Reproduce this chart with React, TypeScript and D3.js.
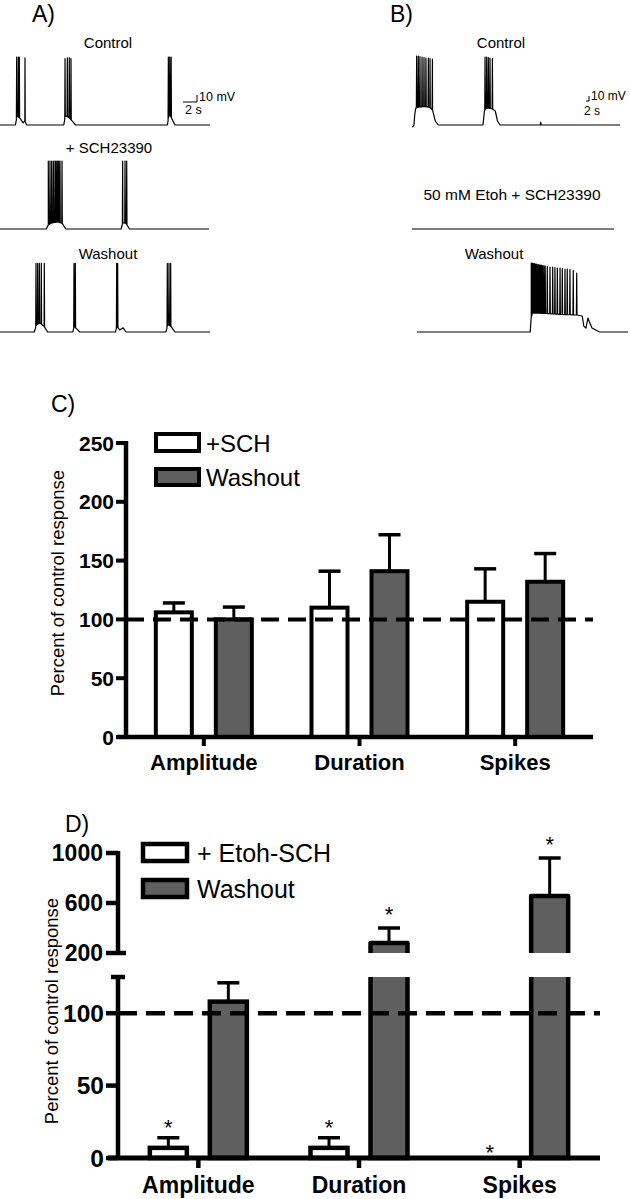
import React from "react";
import * as d3 from "d3";

// ---------------- DATA ----------------
const categories = ["Amplitude", "Duration", "Spikes"];

// Panel C
const schValues = [106, 110, 115];
const schErrors = [8, 31, 28];
const washCValues = [100, 141, 132];
const washCErrors = [10.5, 31, 24];
const ticksC = [0, 50, 100, 150, 200, 250];

// Panel D
const etohValues = [7, 7, 0];
const etohErrors = [7, 7, 0];
const washDValues = [108, 280, 656];
const washDErrors = [13, 120, 304];
const etohStars = [true, true, true];
const washDStars = [false, true, true];
const ticksDLow = [0, 50, 100];
const ticksDUp = [200, 600, 1000];

// Traces: envelope [s, mV], spikes [s, peak mV]
const aControlEnv: [number, number][] = [[0, 0], [2.2, 0], [2.45, 13], [2.9, 9], [3.3, 3], [3.55, 6], [3.8, 0], [9.1, 0], [9.35, 13], [9.8, 11], [10.3, 6], [10.8, 0], [23.9, 0], [24.2, 16], [24.6, 8], [25.0, 0], [30, 0]];
const aControlSpikes: [number, number][] = [[2.38, 97], [2.62, 97], [2.76, 97], [3.57, 96], [9.29, 95], [9.62, 96], [9.9, 96], [10.14, 95], [24.05, 97], [24.25, 97], [24.45, 97]];
const aSchEnv: [number, number][] = [[0, 0], [6.6, 0], [6.9, 6], [7.5, 9], [8.3, 10], [8.9, 8], [9.4, 0], [17.3, 0], [17.55, 9], [18.0, 8], [18.5, 0], [29.86, 0]];
const aSchSpikes: [number, number][] = [[6.9, 97], [7.14, 97], [7.38, 97], [7.62, 97], [7.86, 97], [8.0, 97], [8.19, 97], [8.38, 97], [8.57, 97], [8.86, 97], [17.52, 97], [17.86, 97], [18.1, 97]];
const aWashEnv: [number, number][] = [[0, 0], [4.9, 0], [5.2, 10], [5.7, 13], [6.3, 8], [6.8, 0], [10.4, 0], [10.6, 8], [11.0, 4], [11.4, 0], [16.5, 0], [16.7, 8], [17.1, 3], [17.6, 6], [18.0, 0], [23.7, 0], [24.0, 11], [24.5, 7], [25.0, 0], [30, 0]];
const aWashSpikes: [number, number][] = [[5.14, 98], [5.38, 98], [5.62, 98], [5.9, 98], [6.33, 98], [10.57, 98], [10.76, 98], [16.67, 98], [16.81, 98], [23.9, 98], [24.14, 98], [24.38, 98]];

const bControlEnv: [number, number][] = [[0, -4], [0.8, -3], [1.3, 0], [1.8, 20], [2.5, 34], [5, 36], [9, 37], [12, 35], [13.7, 30], [15.5, 8], [17.5, 0], [47.3, 0], [48.3, 28], [49.5, 34], [53, 33], [55.5, 28], [57, 8], [58.7, 0], [85.5, 0], [85.8, 6], [86.1, 0], [138.7, 0]];
const bControlSpikes: [number, number][] = [[3.1, 138], [4.2, 138], [5.3, 137], [6.7, 136], [8, 135], [9.3, 134], [10.9, 134], [12, 133], [13.6, 132], [48.7, 136], [49.8, 136], [50.9, 135], [52, 134], [53.6, 133]];
const bEtohEnv: [number, number][] = [[0, 0], [134.7, 0]];
const bEtohSpikes: [number, number][] = [];
const bWashEnv: [number, number][] = [[3.3, 0], [78.8, 0], [79.5, 30], [80.5, 38], [90, 37], [100, 35], [110, 34], [113.5, 32], [114.5, 12], [116, 8], [117.3, 28], [118.3, 20], [120, 8], [125, 0], [144, 0]];
const bWashSpikes: [number, number][] = [[79.5, 138], [80.2, 138], [80.9, 137], [81.6, 137], [82.3, 136], [83.0, 136], [83.8, 135], [84.6, 135], [85.4, 134], [86.2, 134], [87.0, 133], [87.9, 133], [88.8, 132], [90.2, 131], [92, 130], [93.8, 130], [95.3, 129], [96.9, 128], [98.7, 128], [100.2, 127], [102, 126], [103.5, 126], [105.3, 125], [107.5, 123], [109.8, 118]];

// ---------------- HELPERS ----------------
const FONT = "'Liberation Sans', Arial, Helvetica, sans-serif";
const GRAY = "#5f5f5f";

function tracePath(env: [number, number][], spikes: [number, number][], xs: any, ys: any, hw: number) {
  const interp = d3.scaleLinear().domain(env.map((d) => d[0])).range(env.map((d) => d[1])).clamp(true);
  const pts: [number, number][] = env.map((d) => [d[0], d[1]]);
  spikes.forEach(([t, p]) => {
    pts.push([t - hw, interp(t - hw)]);
    pts.push([t, p]);
    pts.push([t + hw, interp(t + hw)]);
  });
  pts.sort((a, b) => a[0] - b[0]);
  const line = d3.line<[number, number]>().x((d) => xs(d[0])).y((d) => ys(d[1]));
  return line(pts) || "";
}

export default function App() {
  // ----- traces -----
  const xA = d3.scaleLinear().domain([0, 30]).range([0, 210]);
  const xB = d3.scaleLinear().domain([0, 140]).range([412, 622]);
  const yAmv = (base: number) => d3.scaleLinear().domain([0, 100]).range([base, base - 70]);
  const yBmv = (base: number) => d3.scaleLinear().domain([0, 100]).range([base, base - 50]);

  const traces = [
    { d: tracePath(aControlEnv, aControlSpikes, xA, yAmv(125), 0.04) },
    { d: tracePath(aSchEnv, aSchSpikes, xA, yAmv(229), 0.04) },
    { d: tracePath(aWashEnv, aWashSpikes, xA, yAmv(332), 0.04) },
    { d: tracePath(bControlEnv, bControlSpikes, xB, yBmv(125), 0.2) },
    { d: tracePath(bEtohEnv, bEtohSpikes, xB, yBmv(229), 0.2) },
    { d: tracePath(bWashEnv, bWashSpikes, xB, yBmv(332), 0.2) },
  ];

  const yA0 = yAmv(102);
  const aBarH = xA(2) - xA(0);
  const aBarV = yA0(0) - yA0(10);
  const yB0 = yBmv(101);
  const bBarH = xB(2) - xB(0);
  const bBarV = yB0(0) - yB0(10);

  // ----- panel C -----
  const xC = d3.scaleBand<string>().domain(categories).range([126, 593]);
  const yC = d3.scaleLinear().domain([0, 250]).range([737, 443]);
  const sub = d3.scaleBand<string>().domain(["a", "b"]).range([-60, 60]);
  const barW = 36;

  // ----- panel D -----
  const xD = d3.scaleBand<string>().domain(categories).range([118, 600]);
  const yDlow = d3.scaleLinear().domain([0, 125]).range([1158, 977]);
  const yDup = d3.scaleLinear().domain([200, 1000]).range([953, 853]);
  const yD = (v: number) => (v <= 125 ? yDlow(v) : yDup(v));
  const barWD = 37;

  const errorBar = (cx: number, y0: number, y1: number, key: string, sw = 3) => (
    <g key={key}>
      <line x1={cx} x2={cx} y1={y0} y2={y1} stroke="#000" strokeWidth={sw} />
      <line x1={cx - 11} x2={cx + 11} y1={y1} y2={y1} stroke="#000" strokeWidth={sw + 0.5} />
    </g>
  );

  const star = (cx: number, cy: number, key: string) => (
    <text key={key} x={cx} y={cy + 12.5} fontSize={22} textAnchor="middle" fontFamily={FONT}>*</text>
  );

  return (
    <svg width={630} height={1199} style={{ position: "absolute", left: 0, top: 0, background: "#fff" }} fontFamily={FONT}>
      <rect x={0} y={0} width={630} height={1199} fill="#fff" />
      {/* Panel labels */}
      <text x={32} y={22} fontSize={23}>A)</text>
      <text x={390} y={22} fontSize={23}>B)</text>
      <text x={51} y={412} fontSize={23}>C)</text>
      <text x={65} y={832} fontSize={23}>D)</text>

      {/* Trace labels */}
      <text x={108} y={48} fontSize={15} textAnchor="middle">Control</text>
      <text x={109} y={153} fontSize={15} textAnchor="middle">+ SCH23390</text>
      <text x={108} y={259} fontSize={15} textAnchor="middle">Washout</text>
      <text x={501} y={48} fontSize={15} textAnchor="middle">Control</text>
      <text x={512} y={200} fontSize={15.5} textAnchor="middle">50 mM Etoh + SCH23390</text>
      <text x={494} y={259} fontSize={15} textAnchor="middle">Washout</text>

      {/* Traces */}
      {traces.map((t, i) => (
        <path key={i} d={t.d} fill="none" stroke="#000" strokeWidth={1.2} strokeLinejoin="round" />
      ))}

      {/* Scale bars */}
      <path d={`M${197 - aBarH},102 H197 V${102 - aBarV}`} fill="none" stroke="#000" strokeWidth={1} />
      <text x={199} y={101} fontSize={12.5}>10 mV</text>
      <text x={185} y={114} fontSize={12.5}>2 s</text>
      <path d={`M${589 - bBarH},101 H589 V${101 - bBarV}`} fill="none" stroke="#000" strokeWidth={1} />
      <text x={591} y={100} fontSize={12}>10 mV</text>
      <text x={584} y={115} fontSize={12}>2 s</text>

      {/* ---------- Panel C ---------- */}
      <text transform="translate(64,583) rotate(-90)" fontSize={18.5} textAnchor="middle">Percent of control response</text>
      {categories.map((c, i) => {
        const cx = (xC(c) as number) + xC.bandwidth() / 2;
        const ca = cx + (sub("a") as number) + sub.bandwidth() / 2;
        const cb = cx + (sub("b") as number) + sub.bandwidth() / 2;
        return (
          <g key={c}>
            <rect x={ca - barW / 2} y={yC(schValues[i])} width={barW} height={yC(0) - yC(schValues[i])} fill="#fff" stroke="#000" strokeWidth={4} />
            {errorBar(ca, yC(schValues[i]), yC(schValues[i] + schErrors[i]), "ea" + i)}
            <rect x={cb - barW / 2} y={yC(washCValues[i])} width={barW} height={yC(0) - yC(washCValues[i])} fill={GRAY} stroke="#000" strokeWidth={4} />
            {errorBar(cb, yC(washCValues[i]), yC(washCValues[i] + washCErrors[i]), "eb" + i)}
            <line x1={cx} x2={cx} y1={737} y2={746} stroke="#000" strokeWidth={4} />
            <text x={cx} y={770} fontSize={22} fontWeight="bold" textAnchor="middle">{c}</text>
          </g>
        );
      })}
      <line x1={126} x2={593} y1={yC(100)} y2={yC(100)} stroke="#000" strokeWidth={4} strokeDasharray="18,9" />
      <line x1={126} x2={126} y1={yC(250) - 2} y2={yC(0) + 2} stroke="#000" strokeWidth={4.5} />
      <line x1={117} x2={593} y1={yC(0)} y2={yC(0)} stroke="#000" strokeWidth={4.5} />
      {ticksC.map((t) => (
        <g key={t}>
          <line x1={116} x2={126} y1={yC(t)} y2={yC(t)} stroke="#000" strokeWidth={4} />
          <text x={114} y={yC(t)} dy="0.36em" fontSize={21} fontWeight="bold" textAnchor="end">{t}</text>
        </g>
      ))}
      {/* legend C */}
      <rect x={156} y={434} width={43} height={17} fill="#fff" stroke="#000" strokeWidth={4} />
      <rect x={156} y={469} width={43} height={16} fill={GRAY} stroke="#000" strokeWidth={4} />
      <text x={206} y={452} fontSize={24}>+SCH</text>
      <text x={206} y={486} fontSize={24}>Washout</text>

      {/* ---------- Panel D ---------- */}
      <text transform="translate(58,1011) rotate(-90)" fontSize={18.5} textAnchor="middle">Percent of control response</text>
      {categories.map((c, i) => {
        const cx = (xD(c) as number) + xD.bandwidth() / 2;
        const ca = cx + (sub("a") as number) + sub.bandwidth() / 2;
        const cb = cx + (sub("b") as number) + sub.bandwidth() / 2;
        const v = washDValues[i];
        const x0 = cb - barWD / 2;
        const x1 = cb + barWD / 2;
        const topErr = yD(v + washDErrors[i]);
        const ev = etohValues[i];
        return (
          <g key={c}>
            {ev > 0 && (
              <rect x={ca - barWD / 2} y={yD(ev)} width={barWD} height={yD(0) - yD(ev)} fill="#fff" stroke="#000" strokeWidth={4.5} />
            )}
            {etohErrors[i] > 0 && errorBar(ca, yD(ev), yD(ev + etohErrors[i]), "da" + i)}
            {etohStars[i] && star(ca, (etohErrors[i] > 0 ? yD(ev + etohErrors[i]) : yD(0)) - (etohErrors[i] > 0 ? 15 : 11), "sa" + i)}
            {v <= 125 ? (
              <rect x={x0} y={yD(v)} width={barWD} height={yD(0) - yD(v)} fill={GRAY} stroke="#000" strokeWidth={4.5} />
            ) : (
              <g>
                <rect x={x0} y={yDlow(125)} width={barWD} height={yDlow(0) - yDlow(125)} fill={GRAY} />
                <path d={`M${x0},${yDlow(125)} V${yDlow(0)} H${x1} V${yDlow(125)}`} fill="none" stroke="#000" strokeWidth={4.5} />
                <rect x={x0} y={yDup(v)} width={barWD} height={yDup(200) - yDup(v)} fill={GRAY} />
                <path d={`M${x0},${yDup(200)} V${yDup(v)} H${x1} V${yDup(200)}`} fill="none" stroke="#000" strokeWidth={4.5} strokeLinejoin="round" />
              </g>
            )}
            {errorBar(cb, yD(v), topErr, "db" + i)}
            {washDStars[i] && star(cb, topErr - 19, "sb" + i)}
            <line x1={cx} x2={cx} y1={1158} y2={1168} stroke="#000" strokeWidth={4.5} />
            <text x={cx} y={1193} fontSize={23} fontWeight="bold" textAnchor="middle">{c}</text>
          </g>
        );
      })}
      <line x1={118} x2={600} y1={yDlow(100)} y2={yDlow(100)} stroke="#000" strokeWidth={4.5} strokeDasharray="19,9" />
      {/* lower axis */}
      <line x1={118} x2={118} y1={yDlow(125)} y2={yDlow(0) + 2} stroke="#000" strokeWidth={4.5} />
      <line x1={111} x2={125} y1={yDlow(125)} y2={yDlow(125)} stroke="#000" strokeWidth={4.5} />
      <line x1={108} x2={600} y1={yDlow(0)} y2={yDlow(0)} stroke="#000" strokeWidth={5} />
      {ticksDLow.map((t) => (
        <g key={"l" + t}>
          <line x1={106} x2={118} y1={yDlow(t)} y2={yDlow(t)} stroke="#000" strokeWidth={4.5} />
          <text x={104} y={yDlow(t)} dy="0.36em" fontSize={24.5} fontWeight="bold" textAnchor="end">{t}</text>
        </g>
      ))}
      {/* upper axis */}
      <line x1={118} x2={118} y1={yDup(1000) - 2} y2={yDup(200)} stroke="#000" strokeWidth={4.5} />
      {ticksDUp.map((t) => (
        <g key={"u" + t}>
          <line x1={106} x2={t === 200 ? 126 : 118} y1={yDup(t)} y2={yDup(t)} stroke="#000" strokeWidth={4.5} />
          <text x={103} y={yDup(t)} dy="0.36em" fontSize={23} fontWeight="bold" textAnchor="end">{t}</text>
        </g>
      ))}
      {/* legend D */}
      <rect x={143} y={844} width={44} height={17} fill="#fff" stroke="#000" strokeWidth={4.5} />
      <rect x={143} y={880} width={44} height={17} fill={GRAY} stroke="#000" strokeWidth={4.5} />
      <text x={197} y={862} fontSize={25}>+ Etoh-SCH</text>
      <text x={197} y={898} fontSize={25}>Washout</text>
    </svg>
  );
}
